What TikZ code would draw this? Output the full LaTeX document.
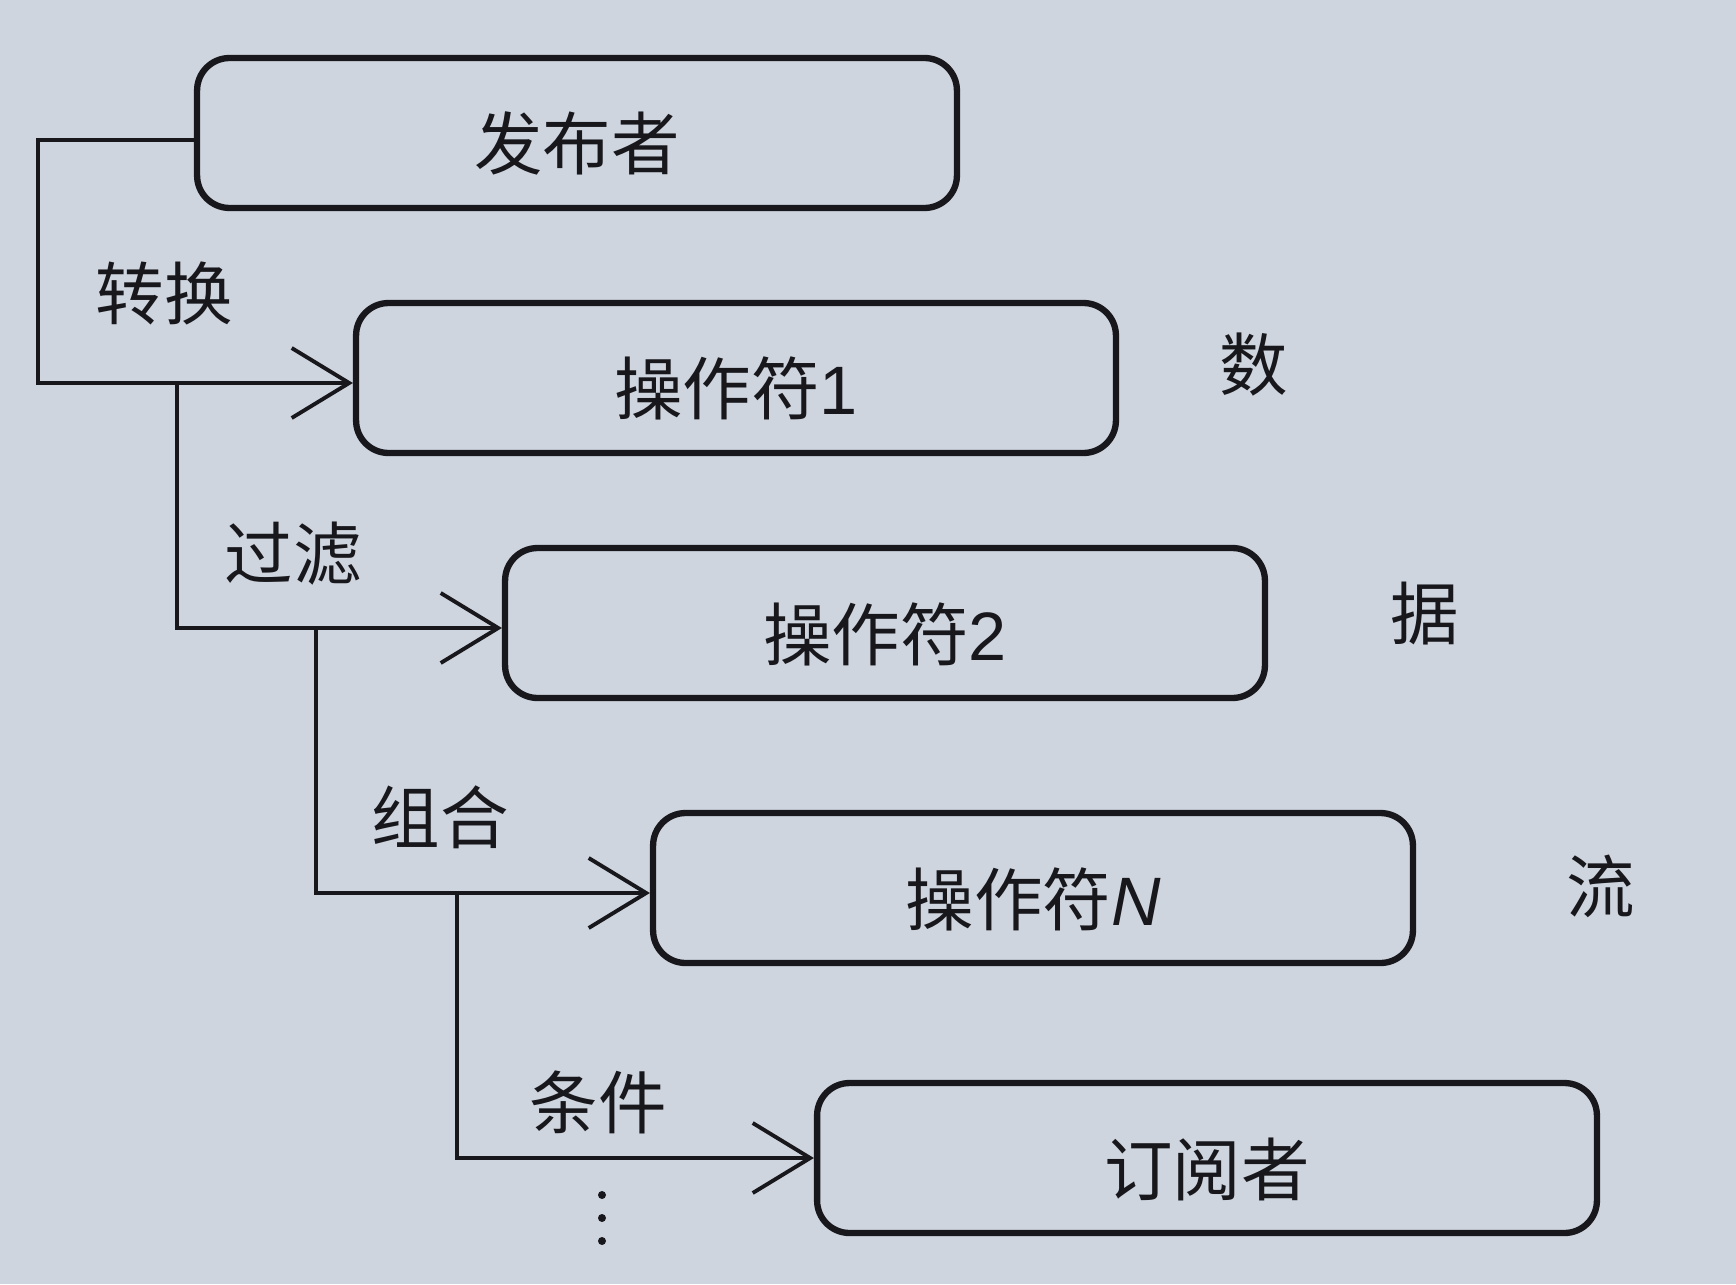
\documentclass[tikz,border=0pt]{standalone}
\usepackage{fontspec}
\setmainfont{Liberation Sans}
\newfontfamily\cjk{Noto Sans CJK SC}
\usetikzlibrary{arrows.meta, positioning, calc}
\definecolor{paper}{RGB}{206,213,223}
\definecolor{ink}{RGB}{24,24,28}

\begin{document}
\begin{tikzpicture}[x=0.02cm, y=-0.02cm,
    box/.style={draw=ink, line width=3.6pt, rounded corners=0.65cm,
                minimum width=15.2cm, minimum height=3cm, text=ink,
                text height=1.65cm, text depth=0.17cm,
                font=\fontsize{39}{44}\selectfont\cjk},
    tag/.style={text=ink, font=\fontsize{39}{44}\selectfont\cjk},
    link/.style={draw=ink, line width=2.2pt},
    flow/.style={link, -{Straight Barb[length=1.15cm, width=1.4cm, line width=2.2pt]}}
  ]
    \fill[paper] (0,0) rectangle (1736,1284);

    \node[box] (pub) at (577,133) {发布者};
    \node[box] (op1) at (736,378) {操作符{\rmfamily 1}};
    \node[box] (op2) at (885,623) {操作符{\rmfamily 2}};
    \node[box] (opN) at (1033,888) {操作符{\rmfamily\itshape N}};
    \node[box, minimum width=15.6cm] (sub) at (1207,1158) {订阅者};

    \node[tag] (conv) at (164,293) {转换};
    \node[tag] (filt) at (293,554) {过滤};
    \node[tag] (comb) at (440,817) {组合};
    \node[tag] (cond) at (598,1102) {条件};

    \node[tag] (s1) at (1254,365) {数};
    \node[tag] (s2) at (1425,614) {据};
    \node[tag] (s3) at (1601,886) {流};

    \coordinate (in1) at ([yshift=-0.1cm]op1.west);
    \coordinate (in2) at ([yshift=-0.1cm]op2.west);
    \coordinate (in3) at ([yshift=-0.1cm]opN.west);
    \coordinate (j1) at ($(in1)+(-176,0)$);
    \coordinate (j2) at ($(in2)+(-186,0)$);
    \coordinate (j3) at ($(in3)+(-193,0)$);

    \draw[flow] ([yshift=-0.14cm]pub.west) -- ++(-156,0) |- (in1);
    \draw[flow] (j1) |- (in2);
    \draw[flow] (j2) |- (in3);
    \draw[flow] (j3) |- (sub.west);

    \foreach \y in {1195,1218,1241} {
      \fill[ink] (602,\y) circle (0.08cm);
    }
  \end{tikzpicture}
\end{document}
